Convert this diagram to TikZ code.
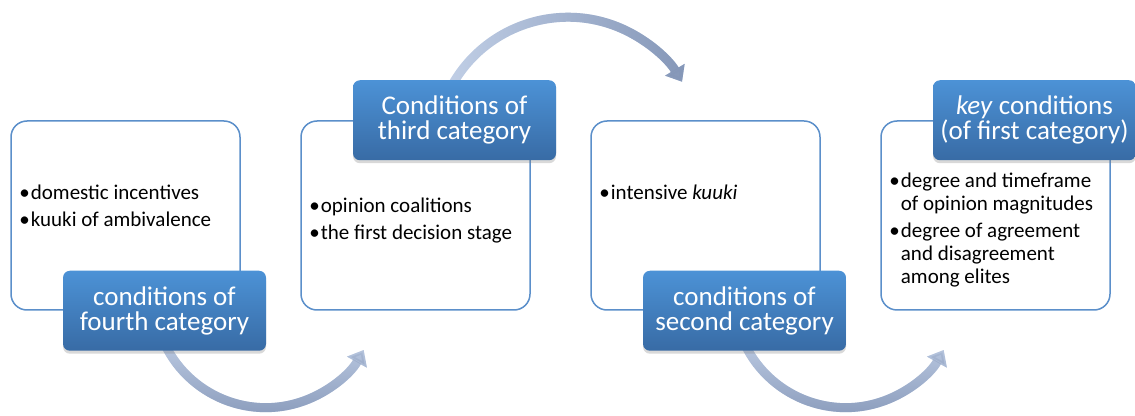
\documentclass[tikz,border=0pt]{standalone}
\usepackage{fontspec}
\setmainfont{Carlito}
\definecolor{catEdge}{HTML}{5B8FCA}
\definecolor{catTop}{HTML}{4C92D6}
\definecolor{catBottom}{HTML}{386BA5}
\definecolor{flowLight}{HTML}{C2D0E7}
\definecolor{flowDark}{HTML}{8597B8}
\usetikzlibrary{arrows.meta, positioning, calc, shadows, fadings, backgrounds}

\begin{document}
\begin{tikzpicture}[x=1pt, y=1pt,
  catbox/.style={draw=catEdge, line width=1.5pt, fill=white, rounded corners=16pt,
    minimum width=229pt, minimum height=189pt, inner sep=0pt},
  catlabel/.style={rounded corners=7pt, top color=catTop, bottom color=catBottom,
    minimum width=203pt, minimum height=80pt, inner sep=0pt, align=center,
    text=white, font=\fontsize{27}{25}\selectfont,
    drop shadow={opacity=0.3, shadow xshift=0pt, shadow yshift=-3pt}},
  items/.style={anchor=base west, inner sep=0pt, font=\fontsize{21}{23}\selectfont},
  flow/.style={line width=9pt, -{Triangle[length=14pt, width=22pt]}}]

  \useasboundingbox (0,0) rectangle (1135,415);

  \node[catbox] (box1) at (125.5,199.5) {};
  \node[catbox, right=59.5pt of box1] (box2) {};
  \node[catbox, right=59.5pt of box2] (box3) {};
  \node[catbox, right=59.5pt of box3] (box4) {};

  \node[items] (txt1) at ($(box1.north west)+(9,-79)$)
    {\begin{tabular}[t]{@{}l@{\hspace{1pt}}l@{}}
      \textbullet & domestic incentives\\[4pt]
      \textbullet & kuuki of ambivalence
    \end{tabular}};
  \node[items] (txt2) at ($(box2.north west)+(9,-92)$)
    {\begin{tabular}[t]{@{}l@{\hspace{1pt}}l@{}}
      \textbullet & opinion coalitions\\[4pt]
      \textbullet & the first decision stage
    \end{tabular}};
  \node[items] (txt3) at ($(box3.north west)+(9,-79)$)
    {\begin{tabular}[t]{@{}l@{\hspace{1pt}}l@{}}
      \textbullet & intensive \textit{kuuki}
    \end{tabular}};
  \node[items] (txt4) at ($(box4.north west)+(9,-67)$)
    {\begin{tabular}[t]{@{}l@{\hspace{1pt}}l@{}}
      \textbullet & degree and timeframe\\
                  & of opinion magnitudes\\[4pt]
      \textbullet & degree of agreement\\
                  & and disagreement\\
                  & among elites
    \end{tabular}};

  \node[catlabel] (lab4) at ($(box1.south)+(39,0)$) {conditions of\\fourth category};
  \node[catlabel] (lab3) at ($(box2.north)+(39,0)$) {Conditions of\\third category};
  \node[catlabel] (lab2) at ($(box3.south)+(39,0)$) {conditions of\\second category};
  \node[catlabel] (lab1) at ($(box4.north)+(39,0)$) {\textit{key} conditions\\(of first category)};

  % curved arrows between the categories
  \begin{scope}[on background layer]
    \draw[flow, flowLight] ($(lab4.south)+(-4,17)$) arc[start angle=200, end angle=331, radius=112];
    \draw[flow, flowDark, path fading=north] ($(lab4.south)+(-4,17)$) arc[start angle=200, end angle=331, radius=112];
    \draw[flow, flowLight] ($(lab3.north)+(-7,-14)$) arc[start angle=155, end angle=31, radius=133];
    \draw[flow, flowDark, path fading=west] ($(lab3.north)+(-7,-14)$) arc[start angle=155, end angle=31, radius=133];
    \draw[flow, flowLight] ($(lab2.south)+(-4,17)$) arc[start angle=200, end angle=331, radius=112];
    \draw[flow, flowDark, path fading=north] ($(lab2.south)+(-4,17)$) arc[start angle=200, end angle=331, radius=112];
  \end{scope}
\end{tikzpicture}
\end{document}
